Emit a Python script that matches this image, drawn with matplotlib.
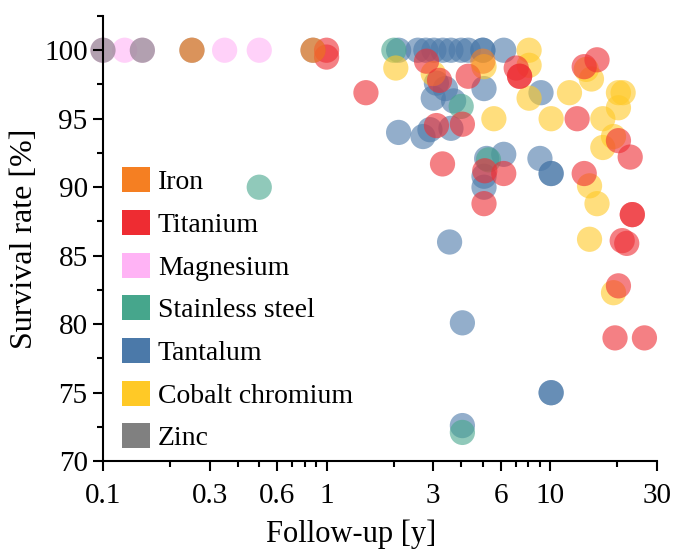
import matplotlib
matplotlib.use('Agg')
import matplotlib.pyplot as plt
from matplotlib.patches import Patch
from matplotlib.ticker import FixedLocator, NullFormatter

plt.rcParams['font.family'] = ['Liberation Serif', 'DejaVu Serif']

# series data (follow-up in years, survival rate in %)
mg_x = [0.1, 0.125, 0.15, 0.35, 0.5]
mg_y = [100, 100, 100, 100, 100]

zn_x = [0.1, 0.15, 0.25, 0.87]
zn_y = [100, 100, 100, 100]

fe_x = [0.25, 0.87, 5.0]
fe_y = [100, 100, 99.2]

ti_x = [1.0, 1.0, 1.5, 2.8, 3.2, 4.3, 3.1, 4.05, 3.3, 6.2, 5.1, 5.06, 7.05, 7.3, 7.3,
        13.2, 14.2, 16.2, 20.2, 22.8, 14.2, 23.3, 23.3, 21.0, 22.0, 20.2, 19.5, 26.4]
ti_y = [100, 99.5, 96.9, 99.2, 97.8, 98.1, 94.5, 94.6, 91.7, 91.0, 91.2, 88.8, 98.7, 98.1, 98.1,
        95.0, 98.8, 99.3, 93.4, 92.2, 91.0, 88.0, 88.0, 86.1, 85.9, 82.8, 79.0, 79.0]

ss_x = [0.5, 2.0, 4.0, 5.3, 4.05]
ss_y = [90.0, 100, 95.9, 92.0, 72.1]

ta_x = [2.1, 2.56, 2.78, 3.02, 3.31, 3.6, 4.0, 4.3, 5.0, 5.0, 6.2,
        3.1, 3.4, 3.0, 3.7, 5.06, 9.1, 2.1, 2.7, 2.9, 3.6, 5.2, 6.2,
        5.06, 5.06, 9.0, 10.1, 10.1, 3.55, 4.05, 4.05, 10.1, 10.1]
ta_y = [100, 100, 100, 100, 100, 100, 100, 100, 100, 100, 100,
        97.6, 97.2, 96.5, 96.3, 97.2, 96.9, 94.0, 93.7, 94.2, 94.3, 92.1, 92.4,
        90.8, 90.0, 92.1, 91.0, 91.0, 86.0, 80.1, 72.6, 75.0, 75.0]

co_x = [2.04, 3.0, 5.06, 8.05, 8.05, 8.05, 5.6, 10.1, 12.2, 14.5, 15.3, 17.2, 17.2,
        19.2, 20.2, 21.2, 20.2, 15.0, 16.2, 15.0, 19.2]
co_y = [98.7, 98.3, 98.8, 100, 98.9, 96.5, 95.0, 95.0, 96.9, 98.6, 97.9, 95.0, 92.9,
        93.7, 96.9, 96.9, 95.8, 90.1, 88.8, 86.2, 82.3]

labels = ['Iron', 'Titanium', 'Magnesium', 'Stainless steel', 'Tantalum', 'Cobalt chromium', 'Zinc']
colors = ['#F57F22', '#EE2C32', '#FFB3F5', '#46A68C', '#4B79A9', '#FFC926', '#808080']

fig = plt.figure(figsize=(6.73, 5.51), dpi=100)
ax = fig.add_axes([0.153, 0.163, 0.823, 0.808])

# draw order picked so the overlaps look like the original
series = [(mg_x, mg_y, colors[2]), (zn_x, zn_y, colors[6]), (ta_x, ta_y, colors[4]),
          (ss_x, ss_y, colors[3]), (co_x, co_y, colors[5]), (ti_x, ti_y, colors[1]),
          (fe_x, fe_y, colors[0])]
for xs, ys, c in series:
    ax.scatter(xs, ys, s=330, color=c, alpha=0.6, edgecolors='none', clip_on=False)

ax.set_xscale('log')
ax.set_xlim(0.1, 30)
ax.set_ylim(70, 102.5)
ax.xaxis.set_major_locator(FixedLocator([0.1, 0.3, 0.6, 1, 3, 6, 10, 30]))
ax.set_xticklabels(['0.1', '0.3', '0.6', '1', '3', '6', '10', '30'])
ax.xaxis.set_minor_locator(FixedLocator([0.2, 0.4, 0.5, 0.7, 0.8, 0.9, 2, 4, 5, 7, 8, 9, 20]))
ax.xaxis.set_minor_formatter(NullFormatter())
ax.set_yticks([70, 75, 80, 85, 90, 95, 100])
ax.yaxis.set_minor_locator(FixedLocator([72.5, 77.5, 82.5, 87.5, 92.5, 97.5, 102.5]))

ax.spines['top'].set_visible(False)
ax.spines['right'].set_visible(False)
for sp in ['left', 'bottom']:
    ax.spines[sp].set_linewidth(1.5)
ax.tick_params(which='major', direction='out', length=7, width=1.5, labelsize=21)
ax.tick_params(axis='x', which='major', pad=9)
ax.tick_params(axis='y', which='major', pad=4)
ax.tick_params(which='minor', direction='out', length=4, width=1.5)

ax.set_xlabel('Follow-up [y]', fontsize=22)
ax.xaxis.set_label_coords(0.448, -0.13)
ax.set_ylabel('Survival rate [%]', fontsize=23, labelpad=4)

handles = [Patch(facecolor=c, edgecolor='none') for c in colors]
ax.legend(handles, labels, loc='lower left', bbox_to_anchor=(0.034, 0.022), frameon=False,
          fontsize=20, handlelength=1.0, handleheight=1.0, handletextpad=0.3,
          labelspacing=0.53, borderpad=0, borderaxespad=0)

plt.savefig('out.png', dpi=100)
